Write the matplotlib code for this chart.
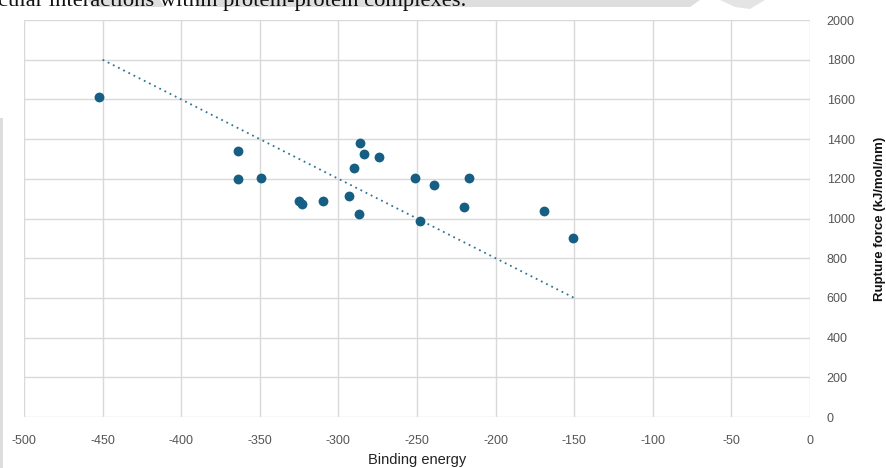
import matplotlib
matplotlib.use("Agg")
import matplotlib.pyplot as plt
from matplotlib.patches import Polygon, Rectangle

# Data
binding_energy = [-452, -364, -364, -349, -325, -323, -310, -293, -287, -290,
                  -286, -284, -274, -251, -248, -239, -217, -220, -169, -151]
rupture_force = [1610, 1341, 1197, 1204, 1088, 1071, 1088, 1113, 1023, 1256,
                 1379, 1325, 1308, 1202, 986, 1170, 1202, 1060, 1040, 900]
trend_x = [-450, -150]
trend_y = [1800, 600]
x_ticks = [-500, -450, -400, -350, -300, -250, -200, -150, -100, -50, 0]
y_ticks = [0, 200, 400, 600, 800, 1000, 1200, 1400, 1600, 1800, 2000]
heading = "cular interactions within protein-protein complexes."

W, H = 887, 468
fig = plt.figure(figsize=(W / 100, H / 100), dpi=100)
fig.patch.set_facecolor("white")

# page decorations (grey shading from the screenshot)
fig.patches.append(Polygon([(88 / W, 1), (160 / W, 1), (165 / W, 1 - 7 / H), (92 / W, 1 - 7 / H)],
                           closed=True, transform=fig.transFigure, facecolor="#dedede",
                           edgecolor="none", zorder=0))
fig.patches.append(Polygon([(195 / W, 1), (700 / W, 1), (690 / W, 1 - 7 / H), (200 / W, 1 - 7 / H)],
                           closed=True, transform=fig.transFigure, facecolor="#dedede",
                           edgecolor="none", zorder=0))
fig.patches.append(Polygon([(720 / W, 1), (765 / W, 1), (750 / W, 1 - 9 / H), (735 / W, 1 - 7 / H)],
                           closed=True, transform=fig.transFigure, facecolor="#e4e4e4",
                           edgecolor="none", zorder=0))
fig.patches.append(Rectangle((0, 0), 3 / W, 1 - 118 / H, transform=fig.transFigure,
                             facecolor="#dddddd", edgecolor="none", zorder=0))
fig.text(-2 / W, 1 - 6 / H, heading, fontsize=16.2, family="Liberation Serif",
         ha="left", va="baseline", color="#111111")

ax = fig.add_axes([24 / W, (H - 417) / H, 786 / W, 397 / H])
ax.set_xlim(-500, 0)
ax.set_ylim(0, 2000)
ax.set_xticks(x_ticks)
ax.set_yticks(y_ticks)
ax.set_xticklabels([str(v) for v in x_ticks])
ax.set_yticklabels([str(v) for v in y_ticks])
ax.yaxis.tick_right()
ax.yaxis.set_label_position("right")
ax.grid(True, color="#d9d9d9", linewidth=1)
ax.set_axisbelow(True)
for s in ax.spines.values():
    s.set_visible(False)
ax.tick_params(axis="both", length=0, labelsize=9, labelcolor="#555555")
ax.tick_params(axis="x", pad=13)
ax.tick_params(axis="y", pad=12)
for lab in ax.get_xticklabels() + ax.get_yticklabels():
    lab.set_family("Liberation Sans")

ax.plot(trend_x, trend_y, linestyle=(0, (1, 2.2)), color="#2f7596", linewidth=1.3, zorder=2)
ax.scatter(binding_energy, rupture_force, s=50, color="#165e83", zorder=3, linewidths=0)

ax.set_xlabel("Binding energy", fontsize=10.5, family="Liberation Sans", color="#222222", labelpad=4)
ax.set_ylabel("Rupture force (kJ/mol/nm)", fontsize=9.5, family="Liberation Sans",
              fontweight="bold", color="#111111", labelpad=14)

fig.savefig("out.png", dpi=100)
